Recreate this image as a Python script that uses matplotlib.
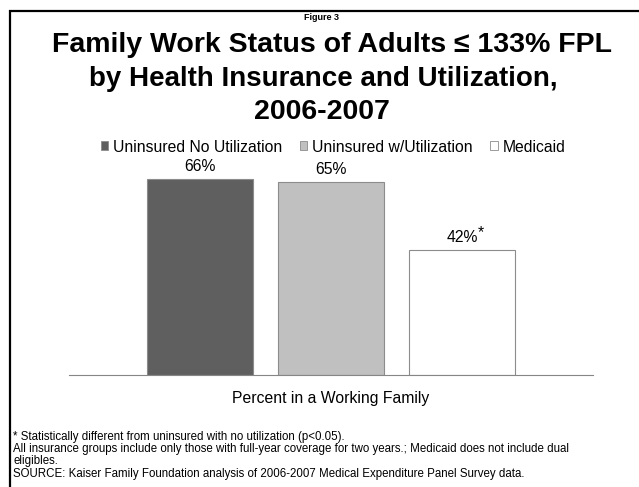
import matplotlib
matplotlib.use("Agg")
import matplotlib.pyplot as plt
from matplotlib.patches import Patch, Rectangle

plt.rcParams['font.family'] = ['Liberation Sans', 'DejaVu Sans']

series = ["Uninsured No Utilization", "Uninsured w/Utilization", "Medicaid"]
values = [66, 65, 42]
labels = ["66%", "65%", "42%"]
stars = ["", "", "*"]
colors = ["#5f5f5f", "#c0c0c0", "#ffffff"]
category = "Percent in a Working Family"
notes = ["* Statistically different from uninsured with no utilization (p<0.05).",
         "All insurance groups include only those with full-year coverage for two years.; Medicaid does not include dual",
         "eligibles.",
         "SOURCE: Kaiser Family Foundation analysis of 2006-2007 Medical Expenditure Panel Survey data."]

W, H = 639, 487
fig = plt.figure(figsize=(W/100, H/100), dpi=100)

# frame (only top and left visible in the slide crop)
fig.add_artist(Rectangle((10/W, -0.1), 1.1, 1 - 10.5/H + 0.1, transform=fig.transFigure,
                         fill=False, edgecolor="black", linewidth=1.6))

ax = fig.add_axes([69/W, (H-375)/H, (593-69)/W, 220/H])
xs = range(len(values))
bars = ax.bar(xs, values, width=0.805, color=colors, edgecolor="#8c8c8c", linewidth=0.8)
for x, v, lab, s in zip(xs, values, labels, stars):
    ax.annotate(lab, (x, v), xytext=(0, 3.5), textcoords="offset points",
                ha="center", va="bottom", fontsize=11.3)
    if s:
        ax.annotate(s, (x, v), xytext=(11.5, 7.5), textcoords="offset points",
                    ha="left", va="bottom", fontsize=11.3)
ax.set_xlim(-1.0, 3.0)
ax.set_ylim(0, 74)
ax.set_yticks([])
ax.set_xticks([])
for sp in ["top", "right", "left"]:
    ax.spines[sp].set_visible(False)
ax.spines["bottom"].set_color("#868686")

handles = [Patch(facecolor=c, edgecolor="#8c8c8c", linewidth=0.6) for c in colors]
fig.legend(handles, series, loc="center", bbox_to_anchor=(333/W, 1 - 147/H), ncol=3,
           frameon=False, fontsize=11.3, handlelength=0.5, handleheight=0.5,
           handletextpad=0.3, columnspacing=1.1)

fig.text(331/W, 1 - 399/H, category, ha="center", va="center", fontsize=11.3)

fig.text(332/W, 1 - 45/H, "Family Work Status of Adults \u2264 133% FPL", ha="center", va="center",
         fontsize=20.5, fontweight="bold")
fig.text(323/W, 1 - 79/H, "by Health Insurance and Utilization,", ha="center", va="center",
         fontsize=20, fontweight="bold")
fig.text(322/W, 1 - 112/H, "2006-2007", ha="center", va="center", fontsize=20.5, fontweight="bold")
fig.text(322/W, 1 - 18/H, "Figure 3", ha="center", va="center", fontsize=6.5, fontweight="bold")

for i, n in enumerate(notes):
    fig.text(13/W, 1 - (440 + i*12.2)/H, n, ha="left", va="baseline", fontsize=8.3)

fig.savefig("out.png", dpi=100)
